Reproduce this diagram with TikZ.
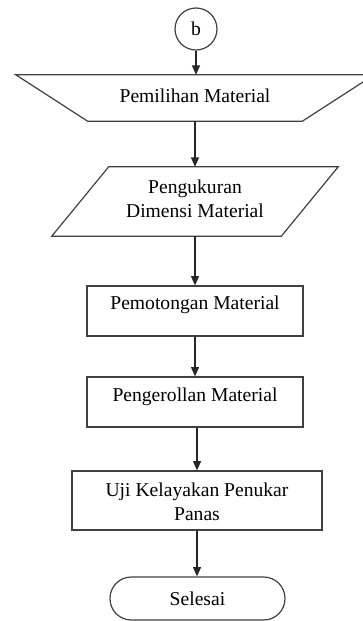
\documentclass[tikz,border=0pt]{standalone}
\usepackage{fontspec}
\setmainfont{Liberation Serif}
\usetikzlibrary{arrows.meta}
\begin{document}
\begin{tikzpicture}[x=0.75pt,y=-0.75pt,
  every node/.style={font=\fontsize{14.7}{18.5}\selectfont, inner sep=0pt},
  shapeline/.style={draw=black!75, line width=0.9pt},
  box/.style={shapeline, rectangle, minimum width=162pt, minimum height=37.5pt},
  ghost/.style={rectangle, draw=none},
  arr/.style={draw=black!85, line width=0.9pt, -{Triangle[length=7pt,width=6pt]}}]
\useasboundingbox (0,0) rectangle (363,621);
% connector b
\node[shapeline, circle, minimum size=31.5pt] (b) at (196,29) {b};
% manual operation (inverted trapezoid)
\node[ghost, minimum width=160.5pt, minimum height=34.5pt] (trap) at (195,98) {};
\draw[shapeline] ([xshift=-54pt]trap.north west) -- ([xshift=54pt]trap.north east)
  -- (trap.south east) -- (trap.south west) -- cycle;
\node (traptext) at ([yshift=2pt]trap.center) {Pemilihan Material};
% parallelogram
\node[ghost, minimum width=214.5pt, minimum height=51.75pt] (para) at (195,201.5) {};
\draw[shapeline] ([xshift=42.75pt]para.north west) -- (para.north east)
  -- ([xshift=-42.75pt]para.south east) -- (para.south west) -- cycle;
\node[align=center] (paratext) at ([yshift=2pt]para.center) {Pengukuran\\Dimensi Material};
% process boxes
\node[box, label={[yshift=5pt]center:Pemotongan Material}] (r1) at (195,311) {};
\node[box, label={[yshift=3.75pt]center:Pengerollan Material}] (r2) at (195,402) {};
\node[shapeline, rectangle, minimum width=187.5pt, minimum height=44.25pt,
  label={[align=center,yshift=-1pt]center:Uji Kelayakan Penukar\\Panas}] (r3) at (197,500.5) {};
% terminal
\node[shapeline, rectangle, rounded corners=16pt, minimum width=131.25pt, minimum height=32.25pt] (term) at (197.5,598.5) {Selesai};
% connectors
\draw[arr] (b.south) -- (b.south |- trap.north);
\draw[arr] (trap.south) -- (trap.south |- para.north);
\draw[arr] (para.south) -- (para.south |- r1.north);
\draw[arr] (r1.south) -- (r1.south |- r2.north);
\draw[arr] ([xshift=1.5pt]r2.south) -- ([xshift=1.5pt]r2.south |- r3.north);
\draw[arr] (r3.south) -- (r3.south |- term.north);
\end{tikzpicture}
\end{document}
